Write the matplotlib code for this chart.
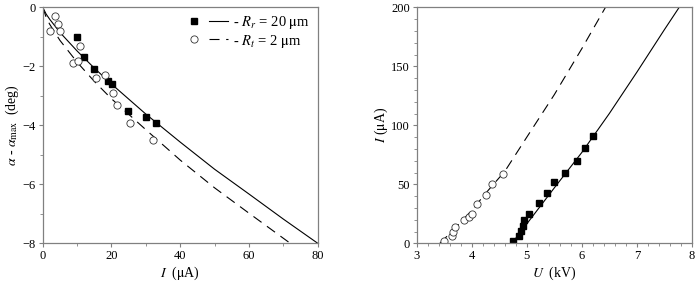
import matplotlib
matplotlib.use('Agg')
import matplotlib.pyplot as plt
from matplotlib.ticker import MultipleLocator
from matplotlib.legend_handler import HandlerTuple

plt.rcParams['font.family'] = ['Liberation Serif', 'DejaVu Serif']
plt.rcParams['mathtext.fontset'] = 'stix'
plt.rcParams['font.size'] = 9

# left panel: deflection vs current
sq_I = [9.9, 12.0, 15.0, 18.9, 20.1, 24.9, 30.0, 32.9]
sq_alpha = [-0.99, -1.69, -2.10, -2.50, -2.60, -3.50, -3.71, -3.91]
ci_I = [2.1, 3.6, 4.3, 5.0, 8.9, 10.4, 10.9, 15.4, 18.1, 20.4, 21.5, 25.4, 32.0]
ci_alpha = [-0.80, -0.28, -0.58, -0.80, -1.90, -1.81, -1.30, -2.41, -2.29, -2.92, -3.31, -3.91, -4.50]

fit20_I = [0, 1, 2, 5, 10, 15, 20, 30, 40, 50, 60, 70, 80]
fit20_alpha = [0, -0.23, -0.40, -0.85, -1.48, -2.06, -2.60, -3.62, -4.57, -5.49, -6.33, -7.18, -8.0]
fit2_I = [0, 1, 2, 5, 10, 15, 20, 30, 40, 50, 60, 72]
fit2_alpha = [0, -0.34, -0.57, -1.12, -1.86, -2.51, -3.10, -4.15, -5.18, -6.12, -6.98, -8.0]

# right panel: current vs voltage
sq_U = [4.745, 4.85, 4.89, 4.93, 4.95, 5.04, 5.23, 5.36, 5.50, 5.70, 5.91, 6.05, 6.21]
sq_Ic = [2, 6, 10.5, 15, 20, 25, 34, 43, 52, 60, 70, 81, 91]
ci_U = [3.50, 3.64, 3.66, 3.70, 3.85, 3.94, 4.00, 4.09, 4.26, 4.36, 4.56]
ci_Ic = [2, 6, 10, 14, 20, 22, 25, 33, 41, 50, 59]

fit20_U = [4.73, 5.0, 5.5, 6.0, 6.5, 7.0, 7.5, 7.77]
fit20_Ic = [0, 16.5, 47, 77, 110, 145, 181, 200]
fit2_U = [3.42, 3.7, 4.0, 4.3, 4.6, 5.0, 5.5, 6.0, 6.43]
fit2_Ic = [0, 13, 28, 45, 61, 90, 126, 165, 200]

spine_col = '#808080'
dash = (0, (9, 6))

fig = plt.figure(figsize=(6.97, 2.85), dpi=100)
ax1 = fig.add_axes([0.0613, 0.1463, 0.3946, 0.828])
ax2 = fig.add_axes([0.598, 0.1463, 0.3946, 0.828])


def style(ax):
    for s in ax.spines.values():
        s.set_color(spine_col)
        s.set_linewidth(0.9)
    ax.tick_params(which='both', direction='out', color=spine_col,
                   top=False, right=False, labelsize=9, pad=2)
    ax.tick_params(which='major', length=3, width=0.8)
    ax.tick_params(which='minor', length=2, width=0.6)


# left
l_fit20, = ax1.plot(fit20_I, fit20_alpha, color='black', lw=0.8)
l_fit2, = ax1.plot(fit2_I, fit2_alpha, color='black', lw=0.8, linestyle=dash)
m_sq, = ax1.plot(sq_I, sq_alpha, 's', color='black', ms=5, mec='black')
m_ci, = ax1.plot(ci_I, ci_alpha, 'o', mfc='white', mec='#333333', ms=5.2, mew=0.6)
ax1.set_xlim(0, 80)
ax1.set_ylim(-8, 0)
ax1.xaxis.set_major_locator(MultipleLocator(20))
ax1.xaxis.set_minor_locator(MultipleLocator(10))
ax1.yaxis.set_major_locator(MultipleLocator(2))
ax1.yaxis.set_minor_locator(MultipleLocator(1))
ax1.set_xlabel(r'$I$  ($\mathrm{\mu}$A)', fontsize=10, labelpad=2)
ax1.set_ylabel(r'$\alpha$ - $\alpha_{\rm max}$  (deg)', fontsize=10, labelpad=1)
style(ax1)
leg_small = [(m_sq, l_fit20), (m_ci, l_fit2)]
ax1.legend(leg_small,
           [r'- $R_r$ = 20 $\mathrm{\mu}$m', r'- $R_t$ = 2 $\mathrm{\mu}$m'],
           handler_map={tuple: HandlerTuple(ndivide=None, pad=0.4)},
           loc='upper left', frameon=False, fontsize=10.5, handlelength=3.0,
           handletextpad=0.35, labelspacing=0.12, borderpad=0.2,
           borderaxespad=0, bbox_to_anchor=(0.505, 0.985))

# right
ax2.plot(fit20_U, fit20_Ic, color='black', lw=0.8)
ax2.plot(fit2_U, fit2_Ic, color='black', lw=0.8, linestyle=dash)
ax2.plot(sq_U, sq_Ic, 's', color='black', ms=5, mec='black')
ax2.plot(ci_U, ci_Ic, 'o', mfc='white', mec='#333333', ms=5.2, mew=0.6)
ax2.set_xlim(3, 8)
ax2.set_ylim(0, 200)
ax2.xaxis.set_major_locator(MultipleLocator(1))
ax2.xaxis.set_minor_locator(MultipleLocator(0.2))
ax2.yaxis.set_major_locator(MultipleLocator(50))
ax2.yaxis.set_minor_locator(MultipleLocator(10))
ax2.set_xlabel(r'$U$  (kV)', fontsize=10, labelpad=2)
ax2.set_ylabel(r'$I$ ($\mathrm{\mu}$A)', fontsize=10, labelpad=1)
style(ax2)

fig.savefig('out.png', dpi=100)
